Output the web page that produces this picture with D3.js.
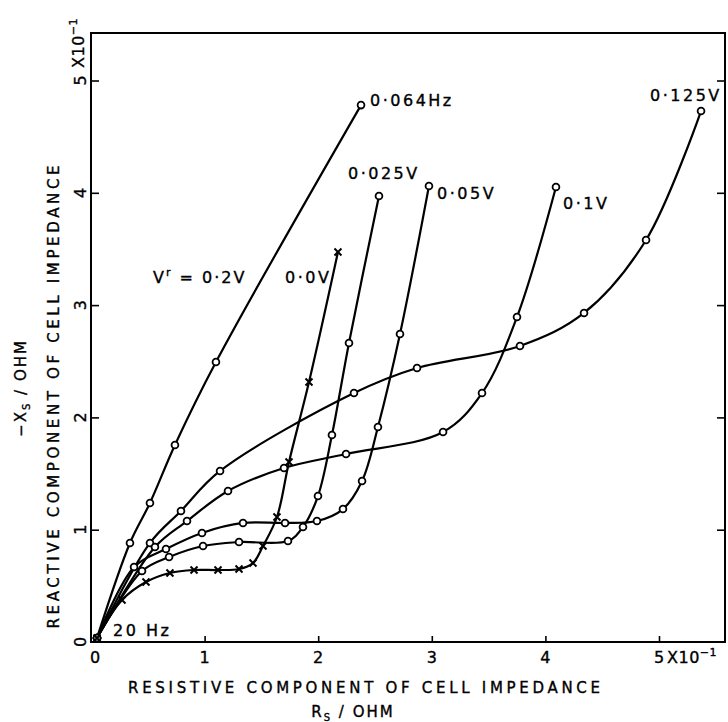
<!DOCTYPE html>
<html><head><meta charset="utf-8">
<script src="https://cdn.jsdelivr.net/npm/d3@7"></script>
<style>body{margin:0;background:#fff}svg{display:block}text{stroke:#000;stroke-width:0.35px}</style>
</head><body><svg id="c" width="728" height="722"></svg>
<script>
// ---- data (Rs, -Xs) in units of 10^-1 ohm ----
const xTickValues = [0, 1, 2, 3, 4, 5];
const yTickValues = [0, 1, 2, 3, 4, 5];
const xTickLabels = ["0", "1", "2", "3", "4", "5"];
const yTickLabels = ["0", "1", "2", "3", "4", "5"];

const curve02V = [[0.053,0.036],[0.343,0.882],[0.519,1.238],[0.739,1.754],[1.100,2.493],[2.377,4.781]];
const curve0125V = [[0.053,0.036],[0.519,0.882],[0.792,1.167],[1.136,1.523],[2.315,2.217],[2.870,2.440],[3.776,2.636],[4.340,2.930],[4.886,3.580],[5.370,4.728]];
const curve01V = [[0.053,0.036],[0.563,0.846],[0.845,1.077],[1.206,1.345],[1.699,1.549],[2.245,1.674],[3.099,1.870],[3.442,2.217],[3.750,2.894],[4.093,4.052]];
const curve005V = [[0.053,0.036],[0.379,0.668],[0.660,0.828],[0.977,0.971],[1.338,1.060],[1.708,1.060],[1.989,1.077],[2.218,1.184],[2.386,1.434],[2.526,1.915],[2.720,2.743],[2.975,4.061]];
const curve0025V = [[0.053,0.036],[0.449,0.632],[0.687,0.757],[0.986,0.855],[1.303,0.890],[1.734,0.899],[1.866,1.024],[1.998,1.300],[2.121,1.843],[2.271,2.663],[2.535,3.972]];
const curve00V = [[0.053,0.036],[0.273,0.374],[0.484,0.534],[0.695,0.614],[0.907,0.641],[1.118,0.641],[1.303,0.650],[1.426,0.703],[1.514,0.855],[1.637,1.113],[1.743,1.603],[1.919,2.315],[2.174,3.473]];

const curves = [curve02V, curve0125V, curve01V, curve005V, curve0025V, curve00V];
const markerKinds = ["o", "o", "o", "o", "o", "x"];

const labelTexts = ["0·064Hz", "0·125V", "0·1V", "0·05V", "0·025V", "0·0V", "20 Hz"];
const labelX = [2.456, 4.921, 4.155, 3.046, 2.262, 1.708, 0.194];
const labelY = [4.83, 4.871, 3.909, 3.998, 4.176, 3.25, 0.107];

// ---- drawing ----
const svg = d3.select("#c");
const FONT = "DejaVu Sans";
const x = d3.scaleLinear().domain([0, 5.581]).range([91, 725]);
const y = d3.scaleLinear().domain([0, 5.423]).range([642, 33]);

svg.append("rect").attr("width", 728).attr("height", 722).attr("fill", "#fff");

// frame
svg.append("rect").attr("x", x(0)).attr("y", y(5.423))
  .attr("width", x(5.581) - x(0)).attr("height", y(0) - y(5.423))
  .attr("fill", "none").attr("stroke", "#000").attr("stroke-width", 2);

// inward ticks
const gB = svg.append("g").attr("transform", `translate(0,${y(0)})`)
  .call(d3.axisBottom(x).tickValues(xTickValues.slice(1)).tickSize(-6).tickFormat(""));
const gL = svg.append("g").attr("transform", `translate(${x(0)},0)`)
  .call(d3.axisLeft(y).tickValues(yTickValues.slice(1)).tickSize(-8).tickFormat(""));
const gR = svg.append("g").attr("transform", `translate(${x(5.581)},0)`)
  .call(d3.axisRight(y).tickValues(yTickValues.slice(1)).tickSize(-8).tickFormat(""));
[gB, gL, gR].forEach(g => {
  g.select(".domain").remove();
  g.selectAll(".tick line").attr("stroke", "#000").attr("stroke-width", 1.6);
});

// x tick labels
svg.append("g").selectAll("text").data(xTickValues).join("text")
  .attr("x", (d, i) => x(d) + (i === 0 ? 4 : 0)).attr("y", 663)
  .attr("text-anchor", "middle").attr("font-family", FONT).attr("font-size", 16)
  .text((d, i) => xTickLabels[i]);
// x exponent
const xe = svg.append("text").attr("x", x(5) + 8).attr("y", 663)
  .attr("font-family", FONT).attr("font-size", 16).attr("letter-spacing", 0.5);
xe.append("tspan").text("X10");
xe.append("tspan").attr("dy", -7).attr("font-size", 11).text("−1");

// y tick labels (rotated)
svg.append("g").selectAll("text").data(yTickValues).join("text")
  .attr("transform", d => `translate(86,${y(d)}) rotate(-90)`)
  .attr("text-anchor", "middle").attr("font-family", FONT).attr("font-size", 16)
  .text((d, i) => yTickLabels[i]);
const ye = svg.append("text").attr("transform", `translate(83.5,68) rotate(-90)`)
  .attr("font-family", FONT).attr("font-size", 16).attr("letter-spacing", 0.5);
ye.append("tspan").text("X10");
ye.append("tspan").attr("dy", -7).attr("font-size", 11).text("−1");

// axis titles
svg.append("text").attr("x", 364).attr("y", 693).attr("text-anchor", "middle")
  .attr("font-family", FONT).attr("font-size", 15)
  .attr("textLength", 472).attr("lengthAdjust", "spacing")
  .text("RESISTIVE COMPONENT OF CELL IMPEDANCE");
const xt2 = svg.append("text").attr("x", 353).attr("y", 717).attr("text-anchor", "middle")
  .attr("font-family", FONT).attr("font-size", 15).attr("letter-spacing", 2);
xt2.append("tspan").text("R");
xt2.append("tspan").attr("dy", 4).attr("font-size", 10).text("S");
xt2.append("tspan").attr("dy", -4).text(" / OHM");

svg.append("text").attr("transform", "translate(58.5,397) rotate(-90)").attr("text-anchor", "middle")
  .attr("font-family", FONT).attr("font-size", 15)
  .attr("textLength", 463).attr("lengthAdjust", "spacing")
  .text("REACTIVE COMPONENT OF CELL IMPEDANCE");
const yt2 = svg.append("text").attr("transform", "translate(25.5,388) rotate(-90)").attr("text-anchor", "middle")
  .attr("font-family", FONT).attr("font-size", 15).attr("letter-spacing", 2);
yt2.append("tspan").text("−X");
yt2.append("tspan").attr("dy", 4).attr("font-size", 10).text("S");
yt2.append("tspan").attr("dy", -4).text(" / OHM");

// curves
const line = d3.line().x(d => x(d[0])).y(d => y(d[1])).curve(d3.curveCatmullRom.alpha(0.5));
svg.append("g").selectAll("path").data(curves).join("path")
  .attr("d", line).attr("fill", "none").attr("stroke", "#000").attr("stroke-width", 2.2);

// markers
curves.forEach((c, i) => {
  const g = svg.append("g");
  if (markerKinds[i] === "o") {
    g.selectAll("circle").data(c).join("circle")
      .attr("cx", d => x(d[0])).attr("cy", d => y(d[1])).attr("r", 3.4)
      .attr("fill", "#fff").attr("stroke", "#000").attr("stroke-width", 1.8);
  } else {
    g.selectAll("path").data(c).join("path")
      .attr("transform", d => `translate(${x(d[0])},${y(d[1])})`)
      .attr("d", "M-3.5,-3.5L3.5,3.5M-3.5,3.5L3.5,-3.5")
      .attr("stroke", "#000").attr("stroke-width", 2);
  }
});

// annotation labels
svg.append("g").selectAll("text").data(labelTexts).join("text")
  .attr("x", (d, i) => x(labelX[i])).attr("y", (d, i) => y(labelY[i]) + 6)
  .attr("font-family", FONT).attr("font-size", 16).attr("letter-spacing", 2.5)
  .text(d => d);

// V^r = 0.2V label
const vl = svg.append("text").attr("x", x(0.546)).attr("y", y(3.25) + 6)
  .attr("font-family", FONT).attr("font-size", 16).attr("letter-spacing", 2);
vl.append("tspan").text("V");
vl.append("tspan").attr("dy", -7).attr("font-size", 11).text("r");
vl.append("tspan").attr("dy", 7).text(" = 0·2V");
</script></body></html>
